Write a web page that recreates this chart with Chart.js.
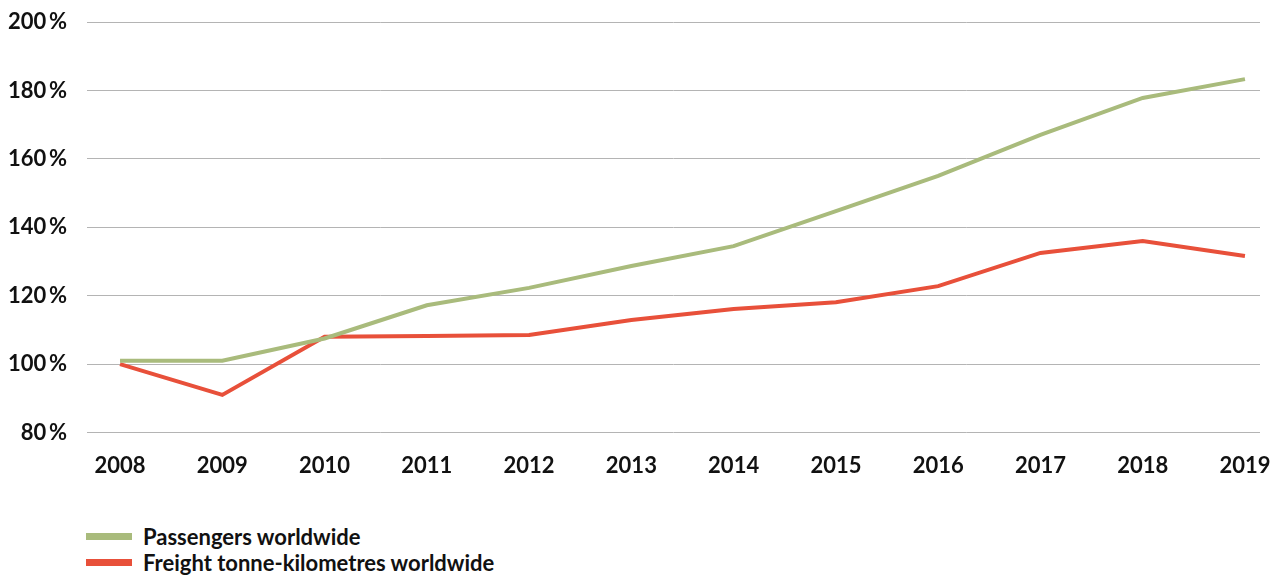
<!DOCTYPE html>
<html>
<head>
<meta charset="utf-8">
<script src="https://cdn.jsdelivr.net/npm/chart.js@4/dist/chart.umd.min.js"></script>
<style>
  html, body { margin: 0; padding: 0; background: #fff; }
  body { width: 1279px; height: 575px; overflow: hidden; font-family: Lato, "Noto Sans", sans-serif; position: relative; }
  #wrap { position: absolute; left: 0; top: 0; width: 1279px; height: 491px; }
  #legend { position: absolute; left: 86px; top: 523px; font-weight: 700; font-size: 22px; color: #111; }
  .item { display: flex; align-items: center; height: 26px; }
  .box { width: 46px; height: 7px; margin-right: 11px; }
</style>
</head>
<body>
<div id="wrap"><canvas id="main_graph"></canvas></div>
<div id="legend"></div>
<script>
// данные графика
const years = [2008, 2009, 2010, 2011, 2012, 2013, 2014, 2015, 2016, 2017, 2018, 2019];
const passengers = [101, 101, 107.5, 117.2, 122.3, 128.7, 134.5, 144.7, 155, 167, 177.8, 183.3];
const freight = [100, 91, 108, 108.2, 108.5, 112.9, 116.1, 118.1, 122.8, 132.5, 136, 131.6];
const yTicks = [80, 100, 120, 140, 160, 180, 200];
const seriesNames = ['Passengers worldwide', 'Freight tonne-kilometres worldwide'];
const seriesColors = ['#a9bb7c', '#e8503a'];

const font = { family: 'Lato, "Noto Sans", sans-serif', size: 22, weight: 'bold' };

window.onload = function () {
  let ctx = document.getElementById('main_graph').getContext('2d');

  let toPoints = function (arr) {
    return arr.map(function (v, i) { return { x: years[i], y: v }; });
  };

  let chart = new Chart(ctx, {
    type: 'line',
    data: {
      datasets: [
        { label: seriesNames[0], data: toPoints(passengers), borderColor: seriesColors[0], borderWidth: 4, pointRadius: 0, tension: 0 },
        { label: seriesNames[1], data: toPoints(freight), borderColor: seriesColors[1], borderWidth: 4, pointRadius: 0, tension: 0 }
      ]
    },
    options: {
      responsive: true,
      maintainAspectRatio: false,
      animation: false,
      layout: { padding: { left: 6, right: 19, top: 22, bottom: 0 } },
      plugins: { legend: { display: false }, tooltip: { enabled: false } },
      scales: {
        x: {
          type: 'linear',
          min: 2007.677,
          max: 2019.147,
          afterBuildTicks: function (axis) {
            axis.ticks = years.map(function (v) { return { value: v }; });
          },
          afterFit: function (axis) { axis.paddingLeft = 0; axis.paddingRight = 0; },
          grid: { display: false },
          border: { display: false },
          ticks: {
            color: '#111', font: font, padding: 12, maxRotation: 0, autoSkip: false,
            callback: function (v) { return String(v); }
          }
        },
        y: {
          min: 80,
          max: 200,
          afterBuildTicks: function (axis) {
            axis.ticks = yTicks.map(function (v) { return { value: v }; });
          },
          afterFit: function (axis) { axis.width = 81; axis.paddingTop = 0; axis.paddingBottom = 0; },
          grid: { color: '#b4b4b4', lineWidth: 1, drawTicks: false },
          border: { display: false },
          ticks: {
            color: '#111', font: font, padding: 20,
            callback: function (v) { return v + '\u2009%'; }
          }
        }
      }
    }
  });

  // легенда
  let legend = document.getElementById('legend');
  seriesNames.forEach(function (name, i) {
    legend.innerHTML += `<div class="item"><span class="box" style="background:${seriesColors[i]}"></span><span>${name}</span></div>`;
  });
};
</script>
</body>
</html>
